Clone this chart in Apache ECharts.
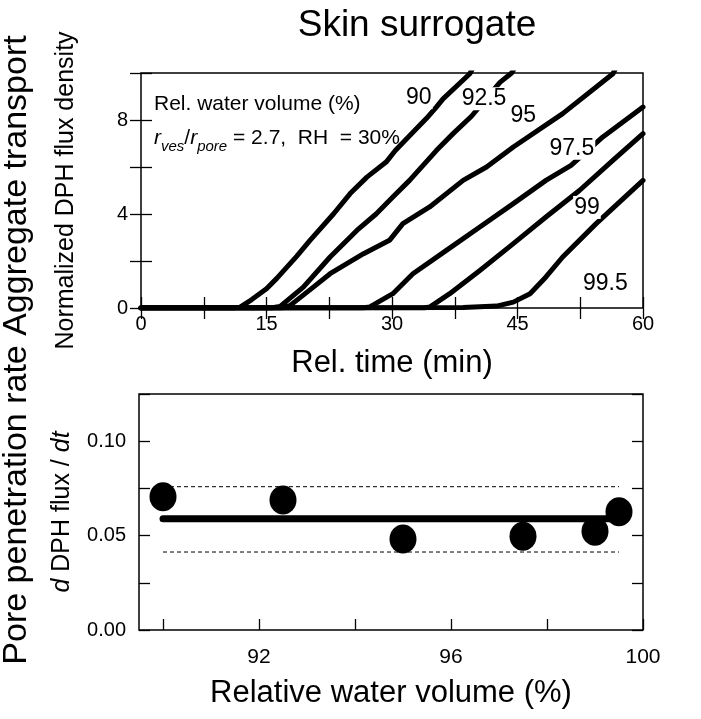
<!DOCTYPE html>
<html><head><meta charset="utf-8">
<script src="https://cdn.jsdelivr.net/npm/echarts@6/dist/echarts.min.js"></script>
<style>html,body{margin:0;padding:0;background:#fff}#c{width:701px;height:719px}</style>
</head><body><div id="c"></div>
<script>
const FONT = "'Liberation Sans', Arial, Helvetica, sans-serif";

// ---- Top panel: normalized DPH flux density vs relative time ----
const curveNames = ['90', '92.5', '95', '97.5', '99', '99.5'];
const curve90 = [[0,0],[11.0,0],[11.8,0.03],[13.2,0.35],[15.0,0.82],[16.2,1.25],[18.6,2.2],[20.2,2.88],[23.0,4.0],[25.0,4.87],[27.0,5.57],[29.3,6.21],[30.4,6.7],[32.3,7.4],[34.1,8.06],[35.3,8.55],[36.1,8.9],[39.3,9.97],[39.8,10.3]];
const curve92_5 = [[0,0],[15.5,0],[16.6,0.06],[19.4,0.89],[22.6,2.17],[25.8,3.3],[28.1,4.0],[30.1,4.72],[32.1,5.43],[35.3,6.7],[37.3,7.42],[39.5,8.16],[42.9,9.6],[44.3,10.0],[44.8,10.3]];
const curve95 = [[0,0],[16.8,0],[17.8,0.1],[20.6,0.89],[22.6,1.46],[26.6,2.31],[29.7,2.88],[31.3,3.59],[34.5,4.3],[38.5,5.43],[41.3,6.0],[44.5,6.85],[50.4,8.27],[56.4,9.97],[56.9,10.3]];
const curve97_5 = [[0,0],[26.5,0],[27.3,0.04],[30.1,0.61],[32.5,1.46],[36.5,2.45],[40.5,3.45],[44.5,4.44],[48.4,5.43],[51.4,6.07],[55.2,7.28],[60,8.55]];
const curve99 = [[0,0],[33.8,0],[34.5,0.04],[36.9,0.61],[40.5,1.6],[44.5,2.74],[48.4,3.87],[52.4,5.0],[56.4,6.28],[60,7.42]];
const curve99_5 = [[0,0],[38.5,0.02],[42.5,0.08],[44.5,0.25],[46.5,0.61],[48.4,1.32],[50.4,2.17],[54.4,3.59],[60,5.43]];
const curveLabelPos = [[33.2,8.95],[41.0,8.9],[45.7,8.2],[51.5,6.8],[53.3,4.28],[55.5,1.02]];

const timeTicks = [0, 7.5, 15, 22.5, 30, 37.5, 45, 52.5, 60];
const timeLabels = [0, 15, 30, 45, 60];
const fluxTicks = [0, 2, 4, 6, 8, 10];
const fluxLabels = [0, 4, 8];

// ---- Bottom panel: pore penetration rate vs relative water volume ----
const waterVolume = [90, 92.5, 95, 97.5, 99, 99.5];
const penetrationRate = [0.0706, 0.0688, 0.0482, 0.0496, 0.0523, 0.0626];
const fitRange = [90, 99.5];
const fitRate = 0.0589;
const upperBand = 0.0759;
const lowerBand = 0.0413;

const volTicks = [90, 92, 94, 96, 98, 100];
const volLabels = [92, 96, 100];
const rateTicks = [0, 0.025, 0.05, 0.075, 0.1, 0.125];
const rateLabels = [0, 0.05, 0.1];

const curves = [curve90, curve92_5, curve95, curve97_5, curve99, curve99_5];

const chart = echarts.init(document.getElementById('c'), null, {renderer: 'canvas'});

const tickStyle = {show: true, inside: true, length: 11, lineStyle: {color: '#000', width: 1.3}};
const labelStyle = {color: '#000', fontFamily: FONT, fontSize: 20};

function axisBase(extra) {
  return Object.assign({
    type: 'value',
    axisLine: {show: false},
    splitLine: {show: false},
  }, extra);
}

const series = curves.map((c, i) => ({
  type: 'line', xAxisIndex: 0, yAxisIndex: 0,
  data: c, showSymbol: false, symbol: 'none', clip: true,
  lineStyle: {color: '#000', width: 5, cap: 'round', join: 'round', opacity: 1},
  z: 2, silent: true
}));

series.push({
  type: 'scatter', xAxisIndex: 0, yAxisIndex: 0, symbolSize: 0, z: 5, silent: true,
  itemStyle: {opacity: 1, color: '#000'},
  data: curveLabelPos.map((p, i) => ({value: p, name: curveNames[i]})),
  label: {show: true, position: 'inside', formatter: p => p.name, color: '#000', opacity: 1,
    fontFamily: FONT, fontSize: 23, backgroundColor: '#fff', padding: [0, 1]}
});

// bottom panel
series.push({
  type: 'line', xAxisIndex: 2, yAxisIndex: 2, symbol: 'none', silent: true,
  data: fitRange.map(x => [x, upperBand]),
  lineStyle: {color: '#000', width: 1, type: [4, 3]}, z: 2
});
series.push({
  type: 'line', xAxisIndex: 2, yAxisIndex: 2, symbol: 'none', silent: true,
  data: fitRange.map(x => [x, lowerBand]),
  lineStyle: {color: '#000', width: 1, type: [4, 3]}, z: 2
});
series.push({
  type: 'line', xAxisIndex: 2, yAxisIndex: 2, symbol: 'none', silent: true,
  data: fitRange.map(x => [x, fitRate]),
  lineStyle: {color: '#000', width: 7, cap: 'round'}, z: 3
});
series.push({
  type: 'scatter', xAxisIndex: 2, yAxisIndex: 2, silent: true,
  data: waterVolume.map((x, i) => [x, penetrationRate[i]]),
  symbol: 'circle', symbolSize: [27, 29],
  itemStyle: {color: '#000', opacity: 1}, z: 4
});

const option = {
  backgroundColor: '#fff',
  animation: false,
  title: {
    text: 'Skin surrogate', left: 412, top: 2, textAlign: 'center',
    textStyle: {fontFamily: FONT, fontSize: 37, fontWeight: 'normal', color: '#000'}
  },
  grid: [
    {left: 141, top: 73, width: 502, height: 235, show: true, borderColor: '#000', borderWidth: 1.5, backgroundColor: 'transparent'},
    {left: 139, top: 394, width: 504, height: 236, show: true, borderColor: '#000', borderWidth: 1.5, backgroundColor: 'transparent'}
  ],
  xAxis: [
    axisBase({gridIndex: 0, position: 'bottom', min: 0, max: 60,
      axisTick: Object.assign({customValues: timeTicks}, tickStyle),
      axisLabel: Object.assign({customValues: timeLabels, margin: 6}, labelStyle),
      name: 'Rel. time (min)', nameLocation: 'middle', nameGap: 40,
      nameTextStyle: {fontFamily: FONT, fontSize: 31, color: '#000'}}),
    axisBase({gridIndex: 0, position: 'top', min: 0, max: 60,
      axisTick: Object.assign({customValues: timeTicks}, tickStyle),
      axisLabel: {show: false}}),
    axisBase({gridIndex: 1, position: 'bottom', min: 89.5, max: 100,
      axisTick: Object.assign({customValues: volTicks}, tickStyle),
      axisLabel: Object.assign({customValues: volLabels, margin: 17}, labelStyle, {fontSize: 21}),
      name: 'Relative water volume (%)', nameLocation: 'middle', nameGap: 48,
      nameTextStyle: {fontFamily: FONT, fontSize: 31, color: '#000'}})
  ],
  yAxis: [
    axisBase({gridIndex: 0, position: 'left', min: 0, max: 10,
      axisTick: Object.assign({customValues: fluxTicks}, tickStyle),
      axisLabel: Object.assign({customValues: fluxLabels, margin: 13}, labelStyle),
      name: 'Normalized DPH flux density', nameLocation: 'middle', nameGap: 62, nameRotate: 90,
      nameTextStyle: {fontFamily: FONT, fontSize: 25, color: '#000'}}),
    axisBase({gridIndex: 0, position: 'right', min: 0, max: 10,
      axisTick: Object.assign({customValues: fluxTicks}, tickStyle),
      axisLabel: {show: false}}),
    axisBase({gridIndex: 1, position: 'left', min: 0, max: 0.125,
      axisTick: Object.assign({customValues: rateTicks}, tickStyle),
      axisLabel: Object.assign({customValues: rateLabels, margin: 13, formatter: v => v.toFixed(2)}, labelStyle),
      name: '{i|d} DPH flux / {i|dt}', nameLocation: 'middle', nameGap: 64, nameRotate: 90,
      nameTextStyle: {fontFamily: FONT, fontSize: 25, color: '#000',
        rich: {i: {fontFamily: FONT, fontSize: 25, fontStyle: 'italic', color: '#000'}}}}),
    axisBase({gridIndex: 1, position: 'right', min: 0, max: 0.125,
      axisTick: Object.assign({customValues: rateTicks}, tickStyle),
      axisLabel: {show: false}})
  ],
  graphic: [
    {type: 'text', x: 17, y: 350, rotation: Math.PI / 2, silent: true,
      style: {text: 'Pore penetration rate Aggregate transport', fontFamily: FONT, fontSize: 34,
        fill: '#000', align: 'center', verticalAlign: 'middle'}},
    {type: 'text', x: 154, y: 104, silent: true,
      style: {text: 'Rel. water volume (%)', fontFamily: FONT, fontSize: 21, fill: '#000',
        align: 'left', verticalAlign: 'middle'}},
    {type: 'text', x: 154, y: 138, silent: true,
      style: {text: '{i|r}{s|ves}{n|/}{i|r}{s|pore}{n| = 2.7,  RH  = 30%}', fill: '#000',
        align: 'left', verticalAlign: 'middle',
        rich: {
          i: {fontFamily: FONT, fontSize: 21, fontStyle: 'italic', lineHeight: 32, verticalAlign: 'middle'},
          n: {fontFamily: FONT, fontSize: 21, lineHeight: 32, verticalAlign: 'middle'},
          s: {fontFamily: FONT, fontSize: 15, fontStyle: 'italic', lineHeight: 32, verticalAlign: 'bottom'}
        }}}
  ],
  series: series
};
chart.setOption(option);
</script>
</body></html>
